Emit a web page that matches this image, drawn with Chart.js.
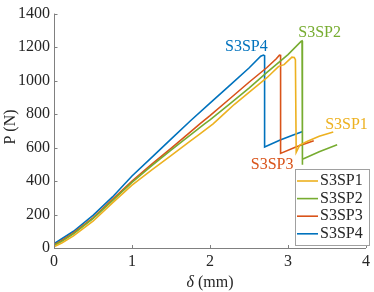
<!DOCTYPE html>
<html>
<head>
<meta charset="utf-8">
<script src="https://cdn.jsdelivr.net/npm/chart.js@4.4.0/dist/chart.umd.min.js"></script>
<style>
  html, body { margin: 0; padding: 0; background: #fff; }
  #wrap { width: 374px; height: 292px; }
</style>
</head>
<body>
<div id="wrap"><canvas id="grafico" width="374" height="292"></canvas></div>
<script>
// valores: deslocamento (mm) e carga (N)
const rotulos = ['S3SP1', 'S3SP2', 'S3SP3', 'S3SP4'];
const cores = ['#EDB120', '#77AC30', '#D95319', '#0072BD'];

const deltaSP1 = [0, 0.1, 0.25, 0.5, 0.75, 1.0, 1.25, 1.5, 1.75, 1.85, 2.04, 2.2, 2.31, 2.5, 2.73, 2.88, 2.95, 3.05, 3.08, 3.095, 3.105, 3.15, 3.25, 3.4, 3.58];
const cargaSP1 = [8, 30, 72, 160, 270, 375, 465, 552, 640, 674, 741, 810, 857, 930, 1017, 1085, 1095, 1140, 1138, 1125, 572, 615, 638, 668, 693];

const deltaSP2 = [0, 0.1, 0.25, 0.5, 0.75, 1.0, 1.25, 1.5, 1.75, 1.93, 2.0, 2.25, 2.5, 2.73, 3.0, 3.17, 3.18, 3.18, 3.19, 3.4, 3.63];
const cargaSP2 = [15, 40, 85, 175, 283, 392, 490, 585, 675, 741, 765, 860, 955, 1049, 1155, 1235, 1237, 497, 530, 575, 616];

const deltaSP3 = [0, 0.1, 0.25, 0.5, 0.75, 1.0, 1.25, 1.5, 1.75, 1.87, 2.0, 2.25, 2.5, 2.73, 2.85, 2.89, 2.905, 2.905, 3.1, 3.33];
const cargaSP3 = [18, 45, 90, 180, 290, 400, 500, 595, 693, 741, 790, 890, 990, 1078, 1130, 1152, 1150, 565, 603, 640];

const deltaSP4 = [0, 0.1, 0.25, 0.5, 0.75, 1.0, 1.25, 1.5, 1.75, 2.0, 2.25, 2.5, 2.65, 2.685, 2.7, 2.7, 2.9, 3.05, 3.18];
const cargaSP4 = [25, 55, 100, 195, 305, 430, 540, 650, 760, 865, 970, 1075, 1145, 1152, 1148, 603, 645, 672, 695];

const ticksX = [0, 1, 2, 3, 4];
const ticksY = [0, 200, 400, 600, 800, 1000, 1200, 1400];

const series = [[deltaSP1, cargaSP1], [deltaSP2, cargaSP2], [deltaSP3, cargaSP3], [deltaSP4, cargaSP4]];

const fonte = '"Liberation Serif", "DejaVu Serif", serif';
const corEixo = '#808080';
const corTexto = '#262626';
const tam = 16;

// rótulos das curvas (posição em coordenadas dos dados)
const anotacoes = [
  { texto: 'S3SP4', x: 2.466, y: 1199, cor: cores[3] },
  { texto: 'S3SP2', x: 3.405, y: 1287, cor: cores[1] },
  { texto: 'S3SP1', x: 3.75, y: 738, cor: cores[0] },
  { texto: 'S3SP3', x: 2.797, y: 496, cor: cores[2] }
];

const extras = {
  id: 'extras',
  afterDraw(chart) {
    const { ctx, chartArea: a, scales: { x, y } } = chart;
    ctx.save();

    // eixos e marcas internas
    ctx.strokeStyle = corEixo;
    ctx.lineWidth = 1;
    ctx.beginPath();
    ctx.moveTo(a.left + 0.5, a.top);
    ctx.lineTo(a.left + 0.5, a.bottom + 0.5);
    ctx.lineTo(a.right, a.bottom + 0.5);
    ticksY.forEach(v => {
      const py = Math.round(y.getPixelForValue(v)) + 0.5;
      ctx.moveTo(a.left, py);
      ctx.lineTo(a.left + 3.5, py);
    });
    ticksX.forEach(v => {
      const px = Math.round(x.getPixelForValue(v)) + 0.5;
      ctx.moveTo(px, a.bottom);
      ctx.lineTo(px, a.bottom - 3);
    });
    ctx.stroke();

    // textos das curvas
    ctx.font = tam + 'px ' + fonte;
    ctx.textAlign = 'center';
    ctx.textBaseline = 'middle';
    anotacoes.forEach(t => {
      ctx.fillStyle = t.cor;
      ctx.fillText(t.texto, x.getPixelForValue(t.x), y.getPixelForValue(t.y));
    });

    // título do eixo y
    ctx.fillStyle = corTexto;
    ctx.save();
    ctx.translate(11, 127);
    ctx.rotate(-Math.PI / 2);
    ctx.fillText('P (N)', 0, 0);
    ctx.restore();

    // título do eixo x, com delta em itálico
    ctx.textAlign = 'left';
    const parte1 = 'δ', parte2 = ' (mm)';
    ctx.font = 'italic ' + tam + 'px ' + fonte;
    const w1 = ctx.measureText(parte1).width;
    ctx.font = tam + 'px ' + fonte;
    const w2 = ctx.measureText(parte2).width;
    const x0 = (a.left + a.right) / 2 - (w1 + w2) / 2;
    ctx.font = 'italic ' + tam + 'px ' + fonte;
    ctx.fillText(parte1, x0, 283);
    ctx.font = tam + 'px ' + fonte;
    ctx.fillText(parte2, x0 + w1, 283);

    // legenda
    const lx = 295, ly = 169, lw = 74, lh = 76;
    ctx.fillStyle = '#fff';
    ctx.fillRect(lx, ly, lw, lh);
    ctx.strokeStyle = '#a0a0a0';
    ctx.lineWidth = 1;
    ctx.strokeRect(lx + 0.5, ly + 0.5, lw, lh);
    chart.data.datasets.forEach((ds, i) => {
      const yy = 181 + i * 17.6;
      ctx.strokeStyle = ds.borderColor;
      ctx.lineWidth = 1.6;
      ctx.beginPath();
      ctx.moveTo(297, yy);
      ctx.lineTo(318, yy);
      ctx.stroke();
      ctx.fillStyle = corTexto;
      ctx.fillText(ds.label, 320, yy);
    });

    ctx.restore();
  }
};

new Chart(document.getElementById('grafico'), {
  type: 'scatter',
  data: {
    datasets: series.map(([dx, py], i) => ({
      label: rotulos[i],
      data: dx.map((v, k) => ({ x: v, y: py[k] })),
      showLine: true,
      borderColor: cores[i],
      backgroundColor: cores[i],
      borderWidth: 1.6,
      pointRadius: 0,
      tension: 0
    }))
  },
  options: {
    responsive: false,
    animation: false,
    layout: { padding: { top: 6, right: 4, left: 0, bottom: 0 } },
    plugins: { legend: { display: false }, tooltip: { enabled: false } },
    scales: {
      x: {
        type: 'linear', min: 0, max: 4,
        afterFit: s => { s.height = 44; },
        afterBuildTicks: s => { s.ticks = ticksX.map(v => ({ value: v })); },
        grid: { display: false, drawTicks: false },
        border: { display: false },
        ticks: { color: corTexto, font: { family: fonte, size: tam }, padding: 4, maxRotation: 0, callback: v => String(v) }
      },
      y: {
        type: 'linear', min: 0, max: 1400,
        afterFit: s => { s.width = 54; },
        afterBuildTicks: s => { s.ticks = ticksY.map(v => ({ value: v })); },
        grid: { display: false, drawTicks: false },
        border: { display: false },
        ticks: { color: corTexto, font: { family: fonte, size: tam }, padding: 4, callback: v => String(v) }
      }
    }
  },
  plugins: [extras]
});
</script>
</body>
</html>
